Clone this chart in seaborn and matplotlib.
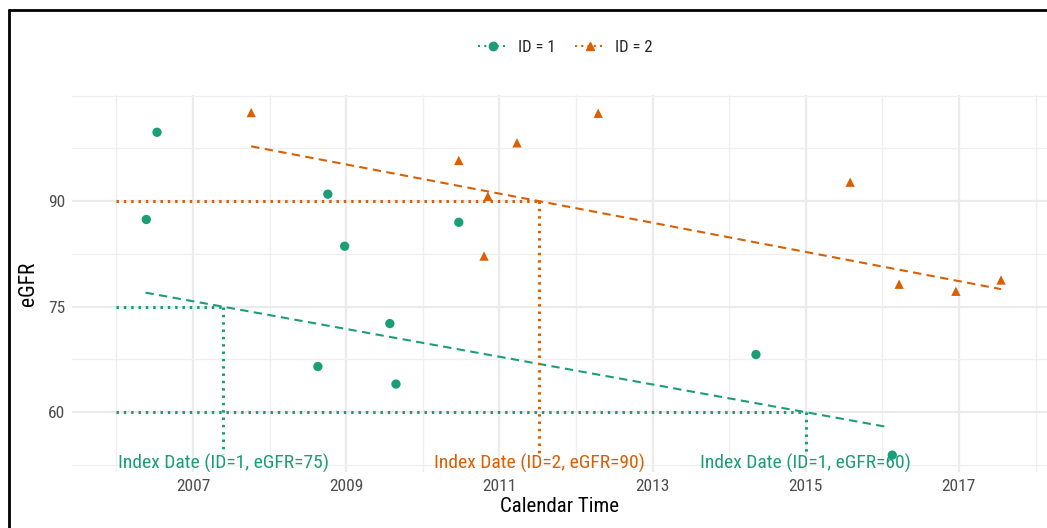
import numpy as np
import pandas as pd
import matplotlib
matplotlib.use("Agg")
import matplotlib.pyplot as plt
from matplotlib.lines import Line2D
from matplotlib.ticker import MultipleLocator
import seaborn as sns

# eGFR measurements per patient (decimal calendar year, eGFR)
id1_time = [2006.39, 2006.53, 2008.63, 2008.76, 2008.98, 2009.57, 2009.65, 2010.47, 2014.35, 2016.13]
id1_egfr = [87.4, 99.8, 66.5, 91.0, 83.6, 72.6, 64.0, 87.0, 68.2, 53.9]
id2_time = [2007.76, 2010.47, 2010.80, 2010.85, 2011.23, 2012.29, 2015.58, 2016.22, 2016.96, 2017.55]
id2_egfr = [102.6, 95.8, 82.2, 90.7, 98.3, 102.5, 92.7, 78.2, 77.2, 78.8]

# linear eGFR trend per patient (start and end of the fitted segment)
id1_trend_time = [2006.38, 2016.04]
id1_trend_egfr = [77.0, 57.95]
id2_trend_time = [2007.76, 2017.55]
id2_trend_egfr = [97.8, 77.5]

# index-date thresholds: (patient, eGFR level)
thresholds = [(1, 75), (1, 60), (2, 90)]

ids = ["ID = 1", "ID = 2"]
colors = {"ID = 1": "#1B9E77", "ID = 2": "#D95F02"}
markers = {"ID = 1": "o", "ID = 2": "^"}

df = pd.DataFrame({
    "time": id1_time + id2_time,
    "egfr": id1_egfr + id2_egfr,
    "id": [ids[0]] * len(id1_time) + [ids[1]] * len(id2_time),
})
trend = pd.DataFrame({
    "time": id1_trend_time + id2_trend_time,
    "egfr": id1_trend_egfr + id2_trend_egfr,
    "id": [ids[0]] * 2 + [ids[1]] * 2,
})

sns.set_theme(style="white")
plt.rcParams["font.family"] = ["Roboto Condensed", "Liberation Sans", "DejaVu Sans"]

fig = plt.figure(figsize=(10.47, 5.28), dpi=100)
ax = fig.add_axes([72 / 1047, 1 - 472 / 528, 1 - 72 / 1047, (472 - 95) / 528])

# light grid: major and minor lines
ax.xaxis.set_major_locator(MultipleLocator(2, offset=1))
ax.xaxis.set_minor_locator(MultipleLocator(1))
ax.yaxis.set_major_locator(MultipleLocator(15))
ax.yaxis.set_minor_locator(MultipleLocator(7.5))
ax.grid(which="major", color="#EBEBEB", lw=1.6, zorder=0)
ax.grid(which="minor", color="#EFEFEF", lw=0.9, zorder=0)
ax.set_axisbelow(True)
for s in ax.spines.values():
    s.set_visible(False)

sns.scatterplot(data=df, x="time", y="egfr", hue="id", style="id",
                palette=colors, markers=markers, s=45, edgecolor="none",
                legend=False, ax=ax, zorder=3)

sns.lineplot(data=trend, x="time", y="egfr", hue="id", palette=colors,
             legend=False, ax=ax, lw=1.5, zorder=2, estimator=None)
for line in ax.get_lines():
    line.set_linestyle((0, (4, 2.6)))

x0 = 2006.0
for pid, level in thresholds:
    key = ids[pid - 1]
    sub = trend[trend["id"] == key]
    xi = float(np.interp(level, sub["egfr"][::-1], sub["time"][::-1]))
    c = colors[key]
    ax.plot([x0, xi], [level, level], color=c, lw=2.2, ls=(0, (0.8, 1.6)),
            zorder=2, dash_capstyle="butt")
    ax.plot([xi, xi], [level, 54.0], color=c, lw=2.2, ls=(0, (0.8, 1.6)),
            zorder=2, dash_capstyle="butt")
    ax.text(xi, 52.75, f"Index Date (ID={pid}, eGFR={level})", color=c,
            ha="center", va="center", fontsize=14, zorder=4)

ax.set_xlim(2005.42, 2018.15)
ax.set_ylim(51.5, 105.1)
ax.set_xticks([2007, 2009, 2011, 2013, 2015, 2017])
ax.set_yticks([60, 75, 90])
ax.tick_params(axis="both", which="both", length=0, labelsize=12.5,
               labelcolor="#4D4D4D", pad=5)
ax.set_xlabel("Calendar Time", fontsize=15, color="black", labelpad=2)
ax.set_ylabel("eGFR", fontsize=15.5, color="black", labelpad=6)

handles = [Line2D([0], [0], color=colors[k], marker=markers[k], ls=(0, (1, 2)),
                  lw=1.5, markersize=6) for k in ids]
fig.legend(handles, ids, loc="center", bbox_to_anchor=(565 / 1047, 1 - 47 / 528),
           ncol=2, frameon=False, fontsize=12, handlelength=1.8,
           handletextpad=0.6, columnspacing=1.2)

# outer frame along the top and left edges
fig.add_artist(Line2D([9 / 1047, 9 / 1047], [0, 1 - 10 / 528], color="black",
                      lw=2, transform=fig.transFigure))
fig.add_artist(Line2D([9 / 1047, 1], [1 - 10 / 528, 1 - 10 / 528], color="black",
                      lw=2, transform=fig.transFigure))

fig.savefig("out.png", dpi=100)
